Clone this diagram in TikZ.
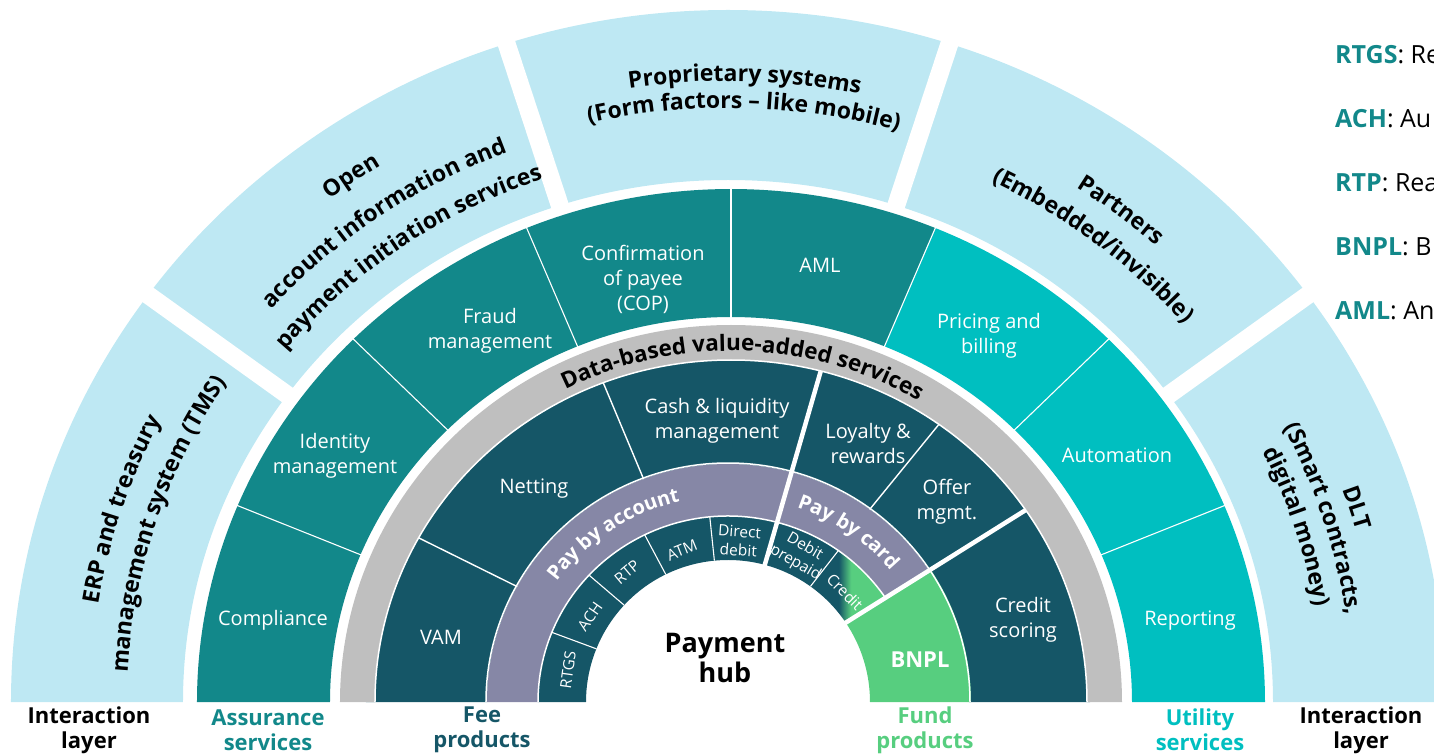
\documentclass[tikz,border=0pt]{standalone}
\usepackage{fontspec}
\setmainfont{Open Sans}
\usetikzlibrary{decorations.text}
\definecolor{lblue}{RGB}{190,232,243}
\definecolor{teal1}{RGB}{18,136,138}
\definecolor{teal2}{RGB}{0,191,192}
\definecolor{dkteal}{RGB}{21,86,103}
\definecolor{purp}{RGB}{134,135,166}
\definecolor{grayr}{RGB}{191,191,191}
\definecolor{bgreen}{RGB}{87,206,127}
\pgfdeclarehorizontalshading{credsh}{100bp}{color(0bp)=(dkteal); color(44bp)=(dkteal); color(52bp)=(bgreen); color(100bp)=(bgreen)}
% annular sector: options, a1, a2, rx1, ry1, rx2, ry2
\newcommand\sect[7]{\path[#1] (#2:#4 and #5) arc[start angle=#2,end angle=#3,x radius=#4,y radius=#5] -- (#3:#6 and #7) arc[start angle=#3,end angle=#2,x radius=#6,y radius=#7] -- cycle;}
% radial line: options, angle, rx1, ry1, rx2, ry2
\newcommand\rline[6]{\draw[#1] (#2:#3 and #4) -- (#2:#5 and #6);}
% curved text: angle, rx, ry, format, text, half span
\newcommand\arctext[6]{\pgfmathsetmacro\myaA{#1+#6}\pgfmathsetmacro\myaB{#1-#6}%
\path[decorate,decoration={text along path,text align=center,text={|#4|#5}}] (\myaA:#2 and #3) arc[start angle=\myaA,end angle=\myaB,x radius=#2,y radius=#3];}
\tikzset{
  wlab/.style={text=white,font=\fontsize{20}{25}\selectfont,align=center,inner sep=0pt},
  slab/.style={text=white,font=\fontsize{15.5}{18.5}\selectfont,align=center,inner sep=0pt},
  blab/.style={font=\bfseries\fontsize{22}{25}\selectfont,align=center,inner sep=0pt},
  leg/.style={anchor=base west,font=\fontsize{25}{25}\selectfont,inner sep=0pt},
  gapline/.style={white,line width=18pt},
  thinw/.style={white,line width=1.1pt},
  thickw/.style={white,line width=4.5pt},
}
\begin{document}
\begin{tikzpicture}[x=1pt,y=1pt]
\useasboundingbox (-728,-51) rectangle (706,702);
\clip (-728,-51) rectangle (706,702);
% outer light blue ring
\sect{fill=lblue}{0}{180}{545}{522}{717}{692}
\foreach \a in {36,72,108,144} {\rline{gapline}{\a}{530}{508}{770}{745}}
% teal ring
\begin{scope}[xshift=3]
\sect{fill=teal1}{67.5}{180}{401}{385}{534}{513}
\sect{fill=teal2}{0}{67.5}{401}{385}{534}{513}
\foreach \a in {22.5,45,67.5,90,112.5,135,157.5} {\rline{thinw}{\a}{398}{382}{537}{516}}
\end{scope}
% dark ring
\sect{fill=dkteal}{0}{180}{241}{238}{362}{346}
% purple ring
\sect{fill=purp}{34}{180}{190}{186}{241}{238}
% inner cells
\sect{fill=dkteal}{54.5}{180}{142}{142}{190}{186}
\sect{shade,shading=credsh}{34}{54.5}{142}{142}{190}{186}
% BNPL
\sect{fill=bgreen}{0}{34}{142}{142}{243}{240}
% ring separators
\draw[white,line width=1.5pt] (34:190 and 186) arc[start angle=34,end angle=180,x radius=190,y radius=186];
\draw[white,line width=1.5pt] (0:242 and 239) arc[start angle=0,end angle=180,x radius=242,y radius=239];
\foreach \a in {158,137,116,95.5,54.5} {\rline{thinw}{\a}{142}{142}{190}{186}}
\foreach \a in {151,110.5,54} {\rline{thinw,line width=1.4pt}{\a}{241}{238}{362}{346}}
\rline{thickw}{75}{140}{140}{362}{346}
\rline{thickw}{34}{140}{140}{362}{346}
% gray ring
\begin{scope}[xshift=3]
\sect{fill=grayr}{0}{180}{356}{342}{391}{377}
\draw[white,line width=1.5pt] (0:356 and 342) arc[start angle=0,end angle=180,x radius=356,y radius=342];
\arctext{88}{365}{351}{\bfseries\fontsize{22.5}{22.5}\selectfont}{Data-based value-added services}{70}
\end{scope}
% curved labels on purple ring
\arctext{124}{211}{206}{\color{white}\bfseries\fontsize{20}{20}\selectfont}{Pay by account}{50}
\arctext{55}{211}{206}{\color{white}\bfseries\fontsize{20}{20}\selectfont}{Pay by card}{45}
% outer curved labels
\arctext{88.5}{646}{621}{\bfseries\fontsize{23}{23}\selectfont}{Proprietary systems}{40}
\arctext{88.5}{618}{594}{\bfseries\fontsize{23}{23}\selectfont}{(Form factors – like mobile)}{40}
\arctext{125}{657}{632}{\bfseries\fontsize{23}{23}\selectfont}{Open}{40}
\arctext{125}{613}{589}{\bfseries\fontsize{23}{23}\selectfont}{account information and}{40}
\arctext{125}{574}{552}{\bfseries\fontsize{23}{23}\selectfont}{payment initiation services}{40}
\arctext{162}{638}{613}{\bfseries\fontsize{23}{23}\selectfont}{ERP and treasury}{40}
\arctext{162}{601}{578}{\bfseries\fontsize{23}{23}\selectfont}{management system (TMS)}{40}
\arctext{52}{639}{614}{\bfseries\fontsize{23}{23}\selectfont}{Partners}{40}
\arctext{52}{602}{579}{\bfseries\fontsize{23}{23}\selectfont}{(Embedded/invisible)}{40}
\arctext{17.5}{653}{628}{\bfseries\fontsize{23}{23}\selectfont}{DLT}{40}
\arctext{17.5}{625}{601}{\bfseries\fontsize{23}{23}\selectfont}{(Smart contracts,}{40}
\arctext{17.5}{595}{572}{\bfseries\fontsize{23}{23}\selectfont}{digital money)}{40}
% teal ring labels
\node[wlab] (comp) at (-455,82) {Compliance};
\node[wlab] (idm) at (-393,246) {Identity\\management};
\node[wlab] (frd) at (-238,371) {Fraud\\management};
\node[wlab] (cop) at (-85,423) {Confirmation\\of payee\\(COP)};
\node[wlab] (aml) at (92,437) {AML};
\node[wlab] (prc) at (261,366) {Pricing and\\billing};
\node[wlab] (aut) at (389,247) {Automation};
\node[wlab] (rep) at (462,81) {Reporting};
% dark ring labels
\node[wlab] (vam) at (-287,65) {VAM};
\node[wlab] (net) at (-194,213) {Netting};
\node[wlab] (cash) at (-11,281) {Cash \& liquidity\\management};
\node[wlab] (loy) at (140,259) {Loyalty \&\\rewards};
\node[wlab] (off) at (219,200) {Offer\\mgmt.};
\node[wlab] (crs) at (295,82) {Credit\\scoring};
\node[wlab,font=\bfseries\fontsize{22}{22}\selectfont] (bnpl) at (192,42) {BNPL};
% inner cells
\node[slab,rotate=82] (rtgs) at (-160,32) {RTGS};
\node[slab,rotate=55] (ach) at (-138,85) {ACH};
\node[slab,rotate=40] (rtp) at (-101,130) {RTP};
\node[slab,rotate=22] (atm) at (-46,152) {ATM};
\node[slab,rotate=-4] (dd) at (11,161) {Direct\\debit};
\node[slab,rotate=-30] (dp) at (72,147) {Debit\\prepaid};
\node[slab,rotate=-45] (cr) at (117,110) {Credit};
% centre
\node[font=\bfseries\fontsize{27}{30}\selectfont,align=center,inner sep=0pt] (hub) at (-3,44) {Payment\\hub};
% bottom labels
\node[blab] (il1) at (-639,-28) {Interaction\\layer};
\node[blab,text=teal1] (asv) at (-460,-28) {Assurance\\services};
\node[blab,text=dkteal] (fee) at (-246,-28) {Fee\\products};
\node[blab,text=bgreen] (fund) at (197,-28) {Fund\\products};
\node[blab,text=teal2] (util) at (472,-28) {Utility\\services};
\node[blab] (il2) at (633,-28) {Interaction\\layer};
% legend
\node[leg] (lg1) at (607,638) {\textcolor{teal1}{\bfseries RTGS}: Re};
\node[leg] (lg2) at (607,574) {\textcolor{teal1}{\bfseries ACH}: Au};
\node[leg] (lg3) at (607,510) {\textcolor{teal1}{\bfseries RTP}: Rea};
\node[leg] (lg4) at (607,446) {\textcolor{teal1}{\bfseries BNPL}: B};
\node[leg] (lg5) at (607,382) {\textcolor{teal1}{\bfseries AML}: An};
\end{tikzpicture}
\end{document}
